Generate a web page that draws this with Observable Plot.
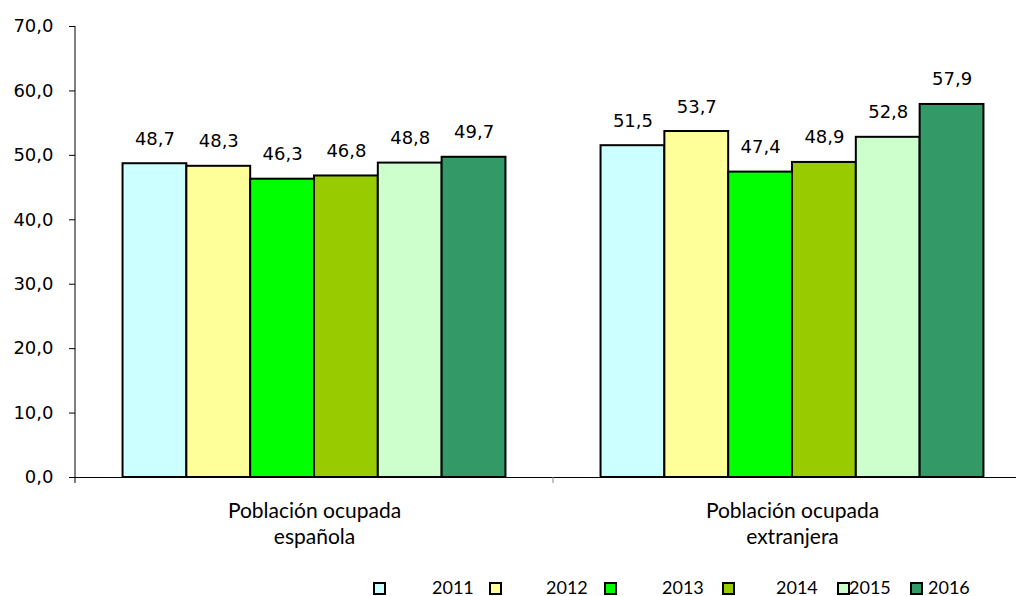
<!DOCTYPE html>
<html>
<head>
<meta charset="utf-8">
<script src="https://cdn.jsdelivr.net/npm/d3@7"></script>
<script src="https://cdn.jsdelivr.net/npm/@observablehq/plot@0.6"></script>
<style>
  html, body { margin: 0; padding: 0; background: #fff; overflow: hidden; }
  #wrap { position: relative; width: 1016px; height: 596px; }
  #legend { position: absolute; left: 0; top: 577px; width: 1016px; height: 20px; font-family: Lato, sans-serif; font-size: 18px; color: #000; }
  #legend .sw { position: absolute; top: 5px; width: 9px; height: 9px; border: 2px solid #000; }
  #legend .lb { position: absolute; top: 0px; line-height: 20px; }
</style>
</head>
<body>
<div id="wrap"><div id="chart"></div><div id="legend"></div></div>
<script>
const categories = ["Población ocupada\nespañola", "Población ocupada\nextranjera"];
const years = ["2011", "2012", "2013", "2014", "2015", "2016"];
const espanola = [48.7, 48.3, 46.3, 46.8, 48.8, 49.7];
const extranjera = [51.5, 53.7, 47.4, 48.9, 52.8, 57.9];
const colors = ["#CCFFFF", "#FFFF99", "#00FF00", "#99CC00", "#CCFFCC", "#339966"];
const yTicks = [0, 10, 20, 30, 40, 50, 60, 70];
// legend layout (pixel positions of swatch and label)
const legendSwatchX = [373, 489, 604, 722, 837, 910];
const legendLabelX = [432, 546, 662, 776, 849, 928];

const series = [espanola, extranjera];
const data = [];
categories.forEach((c, i) => years.forEach((y, j) => data.push({cat: c, year: y, value: series[i][j]})));

const fmt = v => v.toFixed(1).replace(".", ",");

const chart = Plot.plot({
  width: 1016,
  height: 560,
  marginLeft: 75,
  marginRight: -15,
  marginTop: 26,
  marginBottom: 83,
  style: {fontFamily: "DejaVu Sans, sans-serif", fontSize: "18px", color: "#000", background: "white"},
  fx: {domain: categories, padding: 0, axis: null, round: false},
  x: {domain: years, paddingInner: 0, paddingOuter: 0.745, axis: null, round: false},
  y: {domain: [0, 70], axis: null},
  color: {domain: years, range: colors},
  marks: [
    Plot.barY(data, {fx: "cat", x: "year", y: "value", fill: "year", stroke: "#000", strokeWidth: 2, inset: 0}),
    Plot.ruleY([0], {stroke: "#000", strokeWidth: 1}),
    Plot.text(data, {fx: "cat", x: "year", y: "value", text: d => fmt(d.value), lineAnchor: "bottom", dy: -19, fontSize: 18, fill: "#000"}),
    Plot.axisY({anchor: "left", ticks: yTicks, tickSize: 6, tickPadding: 16, tickFormat: fmt, fontSize: 18, label: null, facetAnchor: "left"}),
    Plot.text(categories, {fx: d => d, text: d => d, frameAnchor: "bottom", lineAnchor: "top", dy: 23, lineHeight: 1.2, fontFamily: "Lato, sans-serif", fontSize: 21, fill: "#000"})
  ]
});
document.getElementById("chart").appendChild(chart);

// axis lines derived from the plot's scales
const fx = chart.scale("fx"), y = chart.scale("y");
const svg = d3.select(chart);
const x0 = fx.apply(categories[0]);
const x1 = fx.apply(categories[1]);
svg.append("line").attr("x1", x0).attr("x2", x0).attr("y1", y.apply(70)).attr("y2", y.apply(0) + 6).attr("stroke", "#000").attr("stroke-width", 1);
svg.append("line").attr("x1", x1).attr("x2", x1).attr("y1", y.apply(0)).attr("y2", y.apply(0) + 6).attr("stroke", "#888").attr("stroke-width", 1);

// legend
const lg = d3.select("#legend");
years.forEach((yr, i) => {
  lg.append("div").attr("class", "sw").style("left", legendSwatchX[i] + "px").style("background", colors[i]);
  lg.append("div").attr("class", "lb").style("left", legendLabelX[i] + "px").text(yr);
});
</script>
</body>
</html>
